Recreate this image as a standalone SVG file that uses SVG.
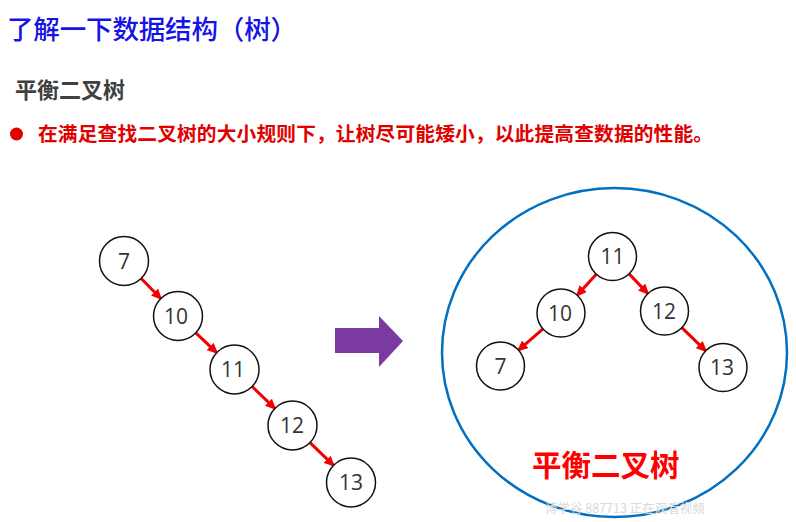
<svg xmlns="http://www.w3.org/2000/svg" width="796" height="522" viewBox="0 0 796 522">
<defs>
<style>
.node circle{fill:#fff;stroke:#111;stroke-width:1.5}
.node text{font-family:"Open Sans","DejaVu Sans",sans-serif;font-size:21px;fill:#333;text-anchor:middle}
.edge{stroke:#f00000;stroke-width:3;fill:none;marker-end:url(#ah)}
.cjk{font-family:"Noto Sans CJK SC","Noto Sans",sans-serif}
</style>
<marker id="ah" markerUnits="userSpaceOnUse" markerWidth="11" markerHeight="10" refX="9" refY="5" orient="auto">
<path d="M0,0 L11,5 L0,10 z" fill="#f00000"/>
</marker>
</defs>
<rect width="796" height="522" fill="#fff"/>
<text class="cjk" x="7" y="39" font-size="26.5" font-weight="500" fill="#1414e6" textLength="290" lengthAdjust="spacing">了解一下数据结构（树）</text>
<text class="cjk" x="15" y="98" font-size="22" font-weight="bold" fill="#404040">平衡二叉树</text>
<circle cx="16.5" cy="134" r="6.5" fill="#e00000"/>
<text class="cjk" x="38" y="141" font-size="19.7" font-weight="bold" fill="#e00000" textLength="675" lengthAdjust="spacing">在满足查找二叉树的大小规则下，让树尽可能矮小，以此提高查数据的性能。</text>
<polygon points="335,328 379,328 379,316 403,341 379,367 379,353 335,353" fill="#7b3a9f"/>
<ellipse cx="614.5" cy="352.5" rx="172.5" ry="164.5" fill="none" stroke="#0070c0" stroke-width="2.5"/>
<g id="connectors">
<line class="edge" x1="141.2" y1="278.5" x2="160.8" y2="298.5"/>
<line class="edge" x1="195.8" y1="332.9" x2="216.7" y2="352.6"/>
<line class="edge" x1="252.1" y1="386.5" x2="274.9" y2="408.5"/>
<line class="edge" x1="310" y1="442.6" x2="333.5" y2="465.4"/>
<line class="edge" x1="596.3" y1="274.2" x2="577.2" y2="295.3"/>
<line class="edge" x1="629.1" y1="273.9" x2="647.9" y2="293.6"/>
<line class="edge" x1="543" y1="328.8" x2="518.5" y2="350.2"/>
<line class="edge" x1="681.8" y1="327.7" x2="705.7" y2="350.8"/>
</g>
<g id="L7" class="node"><circle cx="124" cy="261" r="24.5"/><text x="124" y="268.5">7</text></g>
<g id="L10" class="node"><circle cx="178" cy="316" r="24.5"/><text x="176" y="323.5">10</text></g>
<g id="L11" class="node"><circle cx="234.5" cy="369.5" r="24.5"/><text x="233" y="377">11</text></g>
<g id="L12" class="node"><circle cx="292.5" cy="425.5" r="24.5"/><text x="292" y="433">12</text></g>
<g id="L13" class="node"><circle cx="351" cy="482.5" r="24.5"/><text x="351" y="490">13</text></g>
<g id="R11" class="node"><circle cx="612.5" cy="256.5" r="24"/><text x="612.5" y="264">11</text></g>
<g id="R10" class="node"><circle cx="561" cy="313" r="24"/><text x="560" y="320.5">10</text></g>
<g id="R12" class="node"><circle cx="664.5" cy="311" r="24"/><text x="664" y="318.5">12</text></g>
<g id="R7" class="node"><circle cx="500.5" cy="366" r="24"/><text x="500.5" y="373.5">7</text></g>
<g id="R13" class="node"><circle cx="723" cy="367.5" r="24"/><text x="722" y="375">13</text></g>
<text class="cjk" x="532" y="476" font-size="29.5" font-weight="bold" fill="#ff0000">平衡二叉树</text>
<text class="cjk" x="545" y="513" font-size="12.5" fill="#d9d9d9">博学谷 887713 正在观看视频</text>
</svg>
